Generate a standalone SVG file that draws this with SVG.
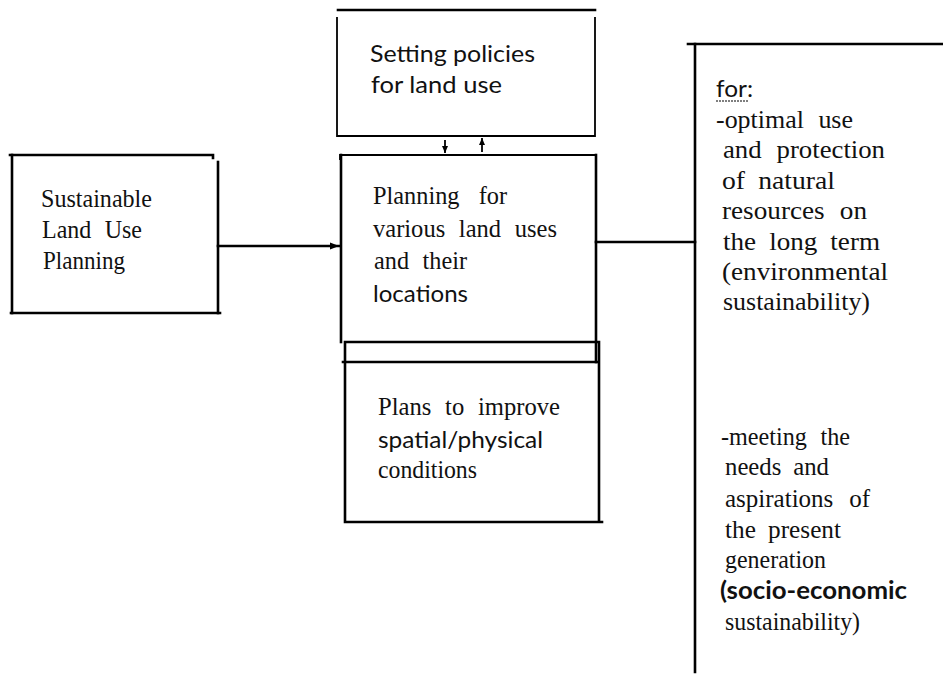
<svg xmlns="http://www.w3.org/2000/svg" width="943" height="676" viewBox="0 0 943 676">
<style>
.ln{stroke:#000;stroke-width:2.6;fill:none;stroke-linecap:square}
.thin{stroke:#000;stroke-width:1.8;fill:none}
.s{font-family:"Liberation Serif","Times New Roman",serif;font-size:26px;fill:#111}
.o{font-family:Lato,"Noto Sans",sans-serif;font-size:24px;fill:#111}
</style>
<defs>
<marker id="ah" markerUnits="userSpaceOnUse" markerWidth="10" markerHeight="8" refX="9" refY="4" orient="auto">
<path d="M0,0.5 L9,4 L0,7.5 Z" fill="#000"/>
</marker>
<marker id="sh" markerUnits="userSpaceOnUse" markerWidth="8" markerHeight="8" refX="7" refY="4" orient="auto">
<path d="M0,1 L7,4 L0,7 Z" fill="#000"/>
</marker>
</defs>
<g id="connectors">
<line class="ln" x1="218" y1="246" x2="339" y2="246" marker-end="url(#ah)"/>
<line class="thin" x1="445" y1="140" x2="445" y2="153" marker-end="url(#sh)"/>
<line class="thin" x1="482" y1="152" x2="482" y2="138" marker-end="url(#sh)"/>
<line class="ln" x1="596" y1="242" x2="695" y2="242"/>
</g>
<g id="node-policies">
<line class="ln" x1="338" y1="10" x2="595" y2="10"/>
<path class="thin" d="M337,17 V136 H595 V17"/>
<text class="o" x="370" y="62" textLength="165" lengthAdjust="spacingAndGlyphs">Setting policies</text>
<text class="o" x="371" y="93" textLength="131" lengthAdjust="spacingAndGlyphs">for land use</text>
</g>
<g id="node-sustainable">
<path class="ln" d="M10,155 H213 V158"/>
<line class="ln" x1="12" y1="155" x2="12" y2="313"/>
<line class="ln" x1="218" y1="162" x2="218" y2="313"/>
<line class="ln" x1="11" y1="313" x2="220" y2="313"/>
<text class="s" x="41" y="207" font-size="27" textLength="111" lengthAdjust="spacingAndGlyphs">Sustainable</text>
<text class="s" x="42" y="238" font-size="27" word-spacing="8" textLength="100" lengthAdjust="spacingAndGlyphs">Land Use</text>
<text class="s" x="43" y="269" font-size="23" textLength="82" lengthAdjust="spacingAndGlyphs">Planning</text>
</g>
<g id="node-planning">
<path class="thin" d="M340,160 V155 H596"/>
<line class="ln" x1="341" y1="155" x2="341" y2="342"/>
<line class="ln" x1="596" y1="155" x2="596" y2="362"/>
<line class="ln" x1="343" y1="362" x2="598" y2="362"/>
<text class="s" x="373" y="204" word-spacing="14" textLength="134" lengthAdjust="spacingAndGlyphs">Planning for</text>
<text class="s" x="373" y="237" word-spacing="8" textLength="184" lengthAdjust="spacingAndGlyphs">various land uses</text>
<text class="s" x="374" y="269" word-spacing="8" textLength="93" lengthAdjust="spacingAndGlyphs">and their</text>
<text class="o" x="373" y="302" textLength="95" lengthAdjust="spacingAndGlyphs">locations</text>
</g>
<g id="node-plans">
<path class="ln" d="M345,342 H599 V522 M345,342 V522 H602"/>
<text class="s" x="378" y="415" word-spacing="8" textLength="182" lengthAdjust="spacingAndGlyphs">Plans to improve</text>
<text class="o" x="378" y="448" textLength="165" lengthAdjust="spacingAndGlyphs">spatial/physical</text>
<text class="s" x="378" y="478" textLength="99" lengthAdjust="spacingAndGlyphs">conditions</text>
</g>
<g id="node-goals">
<line class="ln" x1="688" y1="44" x2="943" y2="44"/>
<line class="ln" x1="695" y1="44" x2="695" y2="672"/>
<text class="o" x="716" y="97" textLength="37" lengthAdjust="spacingAndGlyphs">for:</text>
<line x1="716" y1="101" x2="748" y2="101" stroke="#000" stroke-width="1.2" stroke-dasharray="2 1"/>
<text class="s" x="716" y="128" word-spacing="8" textLength="137" lengthAdjust="spacingAndGlyphs">-optimal use</text>
<text class="s" x="723" y="158" word-spacing="8" textLength="162" lengthAdjust="spacingAndGlyphs">and protection</text>
<text class="s" x="722" y="189" word-spacing="6" textLength="113" lengthAdjust="spacingAndGlyphs">of natural</text>
<text class="s" x="722" y="219" word-spacing="8" textLength="145" lengthAdjust="spacingAndGlyphs">resources on</text>
<text class="s" x="723" y="250" word-spacing="6" textLength="157" lengthAdjust="spacingAndGlyphs">the long term</text>
<text class="s" x="722" y="280" textLength="166" lengthAdjust="spacingAndGlyphs">(environmental</text>
<text class="s" x="723" y="310" textLength="147" lengthAdjust="spacingAndGlyphs">sustainability)</text>
<text class="s" x="721" y="445" word-spacing="8" textLength="129" lengthAdjust="spacingAndGlyphs">-meeting the</text>
<text class="s" x="725" y="475" word-spacing="6" textLength="104" lengthAdjust="spacingAndGlyphs">needs and</text>
<text class="s" x="725" y="507" word-spacing="10" textLength="145" lengthAdjust="spacingAndGlyphs">aspirations of</text>
<text class="s" x="725" y="538" word-spacing="6" textLength="116" lengthAdjust="spacingAndGlyphs">the present</text>
<text class="s" x="725" y="568" textLength="101" lengthAdjust="spacingAndGlyphs">generation</text>
<text class="o" x="720" y="599" font-weight="bold" textLength="187" lengthAdjust="spacingAndGlyphs">(socio-economic</text>
<text class="s" x="725" y="630" textLength="135" lengthAdjust="spacingAndGlyphs">sustainability)</text>
</g>
</svg>
